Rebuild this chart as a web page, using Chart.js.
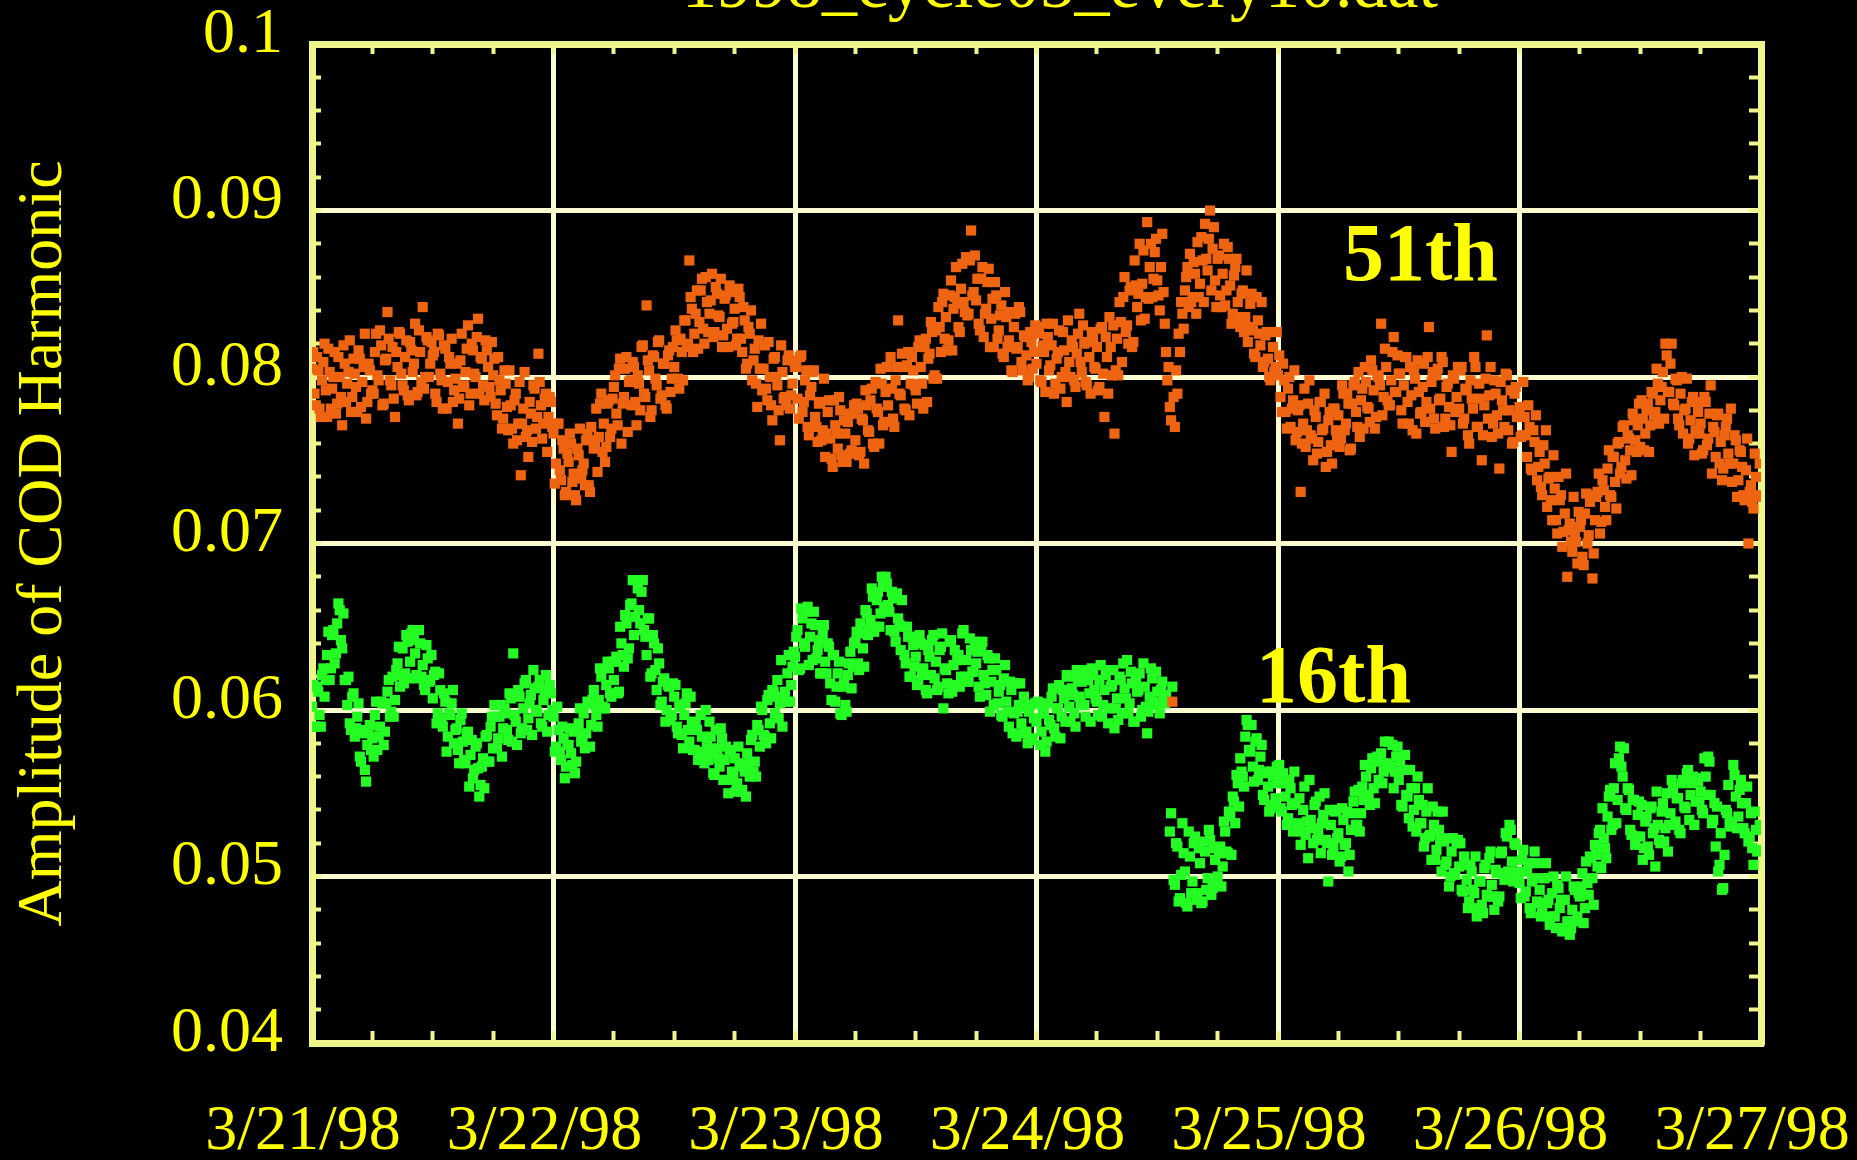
<!DOCTYPE html>
<html>
<head>
<meta charset="utf-8">
<title>1998_cycle05_every10.dat</title>
<script src="https://cdn.jsdelivr.net/npm/chart.js@4.4.1/dist/chart.umd.min.js"></script>
<style>
  html, body { margin: 0; padding: 0; background: #000; }
  #chart { display: block; background: #000; }
</style>
</head>
<body>
<canvas id="chart" width="1857" height="1160"></canvas>
<script>
// COD harmonic amplitudes, 3/21/98 - 3/27/98 (16th and 51st harmonic)

const fileName = "1998_cycle05_every10.dat";
const yTitle = "Amplitude of COD Harmonic";
const dayLabels = ["3/21/98", "3/22/98", "3/23/98", "3/24/98", "3/25/98", "3/26/98", "3/27/98"];
const ampLabels = ["0.04", "0.05", "0.06", "0.07", "0.08", "0.09", "0.1"];

const SAMPLES_PER_DAY = 192; // one sample every 7.5 min, t=0 at 3/21/98 00:00

// amplitude x 1e-4, one row = 6 hours of samples
const harm51 = [
  805,815, 790,783, 812,804, 781,776, 798,809, 820,792, 776,817, 803,781, 793,800, 815,778, 784,812, 800,788, 771,819, 808,785, 796,803, 822,779, 788,811, 802,794, 779,816, 811,782, 797,806, 826,775, 785,808, 804,790,
  792,790, 815,826, 801,798, 828,819, 783,784, 810,811, 839,823, 798,795, 818,787, 776,815, 806,827, 826,802, 795,792, 812,822, 789,786, 821,816, 803,808, 832,789, 791,828, 815,797, 842,793, 800,824, 822,800, 808,821,
  813,815, 790,785, 826,825, 802,798, 781,819, 817,781, 797,812, 808,823, 785,792, 799,808, 772,787, 810,826, 794,795, 803,817, 831,783, 790,820, 816,802, 800,824, 835,790, 812,811, 795,786, 822,816, 806,794, 788,821,
  801,811, 784,777, 812,798, 792,769, 775,804, 796,782, 768,804, 783,769, 760,786, 790,762, 772,797, 741,772, 781,803, 764,768, 752,785, 778,761, 795,793, 769,776, 814,797, 783,763, 772,787, 790,755, 776,788, 785,770,
  766,736, 748,772, 772,744, 738,762, 757,729, 731,754, 749,766, 760,737, 742,729, 726,757, 753,769, 739,744, 748,735, 762,766, 735,731, 770,762, 757,760, 781,743, 764,784, 790,755, 772,749, 758,784, 786,764, 769,787,
  794,801, 778,771, 805,811, 760,784, 788,805, 812,767, 797,798, 783,809, 806,785, 771,801, 796,780, 818,819, 790,788, 843,810, 804,776, 780,813, 812,799, 795,821, 822,787, 789,808, 808,783, 781,813, 816,791, 799,818,
  806,828, 822,799, 793,823, 815,798, 834,834, 818,820, 870,848, 841,815, 826,838, 852,817, 833,852, 859,829, 820,860, 845,827, 838,846, 862,824, 827,854, 850,837, 836,859, 818,825, 847,849, 829,818, 855,851, 832,833,
  841,819, 823,853, 848,823, 815,842, 834,805, 808,830, 826,840, 798,810, 817,796, 782,822, 805,832, 792,805, 819,793, 786,821, 800,783, 774,811, 812,800, 795,780, 762,819, 803,787, 788,783, 810,813, 781,789, 796,810,
  806,806, 787,775, 812,813, 779,785, 798,804, 770,765, 789,794, 803,804, 776,770, 761,784, 785,762, 768,799, 752,766, 779,786, 763,751, 746,786, 771,766, 757,788, 780,753, 749,774, 766,749, 773,778, 754,756, 778,783,
  762,784, 781,753, 755,775, 774,748, 792,783, 768,767, 786,793, 760,758, 797,781, 779,760, 805,796, 771,773, 791,806, 783,773, 812,793, 775,770, 798,806, 834,790, 789,814, 806,781, 780,807, 815,777, 796,812, 804,795,
  792,784, 818,822, 806,796, 781,818, 823,785, 811,814, 833,827, 799,801, 828,799, 842,830, 815,845, 850,823, 836,816, 822,849, 858,816, 841,848, 866,844, 830,827, 853,868, 845,839, 872,837, 838,870, 888,849, 851,873,
  846,859, 832,828, 859,866, 824,838, 841,857, 865,818, 835,847, 818,857, 849,823, 828,837, 843,814, 812,851, 836,818, 822,839, 804,803, 830,838, 817,818, 842,839, 809,804, 825,824, 813,798, 800,827, 821,805, 815,831,
  808,830, 826,798, 797,819, 815,791, 832,824, 804,807, 819,832, 790,796, 811,815, 828,793, 800,827, 816,803, 785,834, 809,800, 822,818, 798,794, 814,826, 838,809, 803,831, 820,797, 795,821, 812,790, 827,823, 806,805,
  818,792, 794,829, 830,802, 776,824, 812,790, 836,818, 801,831, 766,804, 823,801, 845,833, 809,848, 860,827, 831,820, 852,854, 818,821, 870,855, 842,850, 880,834, 856,876, 835,848, 893,847, 866,880, 848,859, 875,883,
  858,849, 840,866, 886,851, 832,815, 798,806, 782,774, 605,788, 770,804, 790,826, 815,845, 838,829, 852,860, 866,842, 874,845, 848,869, 862,838, 881,848, 856,884, 870,845, 892,871, 864,883, 900,852, 877,890, 858,842,
  871,873, 849,842, 862,880, 843,852, 878,871, 855,832, 838,861, 866,871, 845,836, 830,850, 852,827, 836,864, 821,830, 844,850, 828,814, 812,848, 834,826, 819,845, 806,809, 825,827, 811,800, 798,827, 818,803, 806,827,
  801,813, 788,779, 808,798, 779,769, 793,800, 770,781, 786,804, 762,767, 780,783, 731,760, 772,793, 758,768, 784,798, 765,763, 750,780, 776,754, 761,785, 785,768, 769,790, 746,755, 774,779, 759,748, 781,781, 768,763,
  777,758, 763,795, 790,768, 772,790, 784,756, 757,784, 795,797, 779,770, 803,764, 786,793, 769,806, 797,782, 781,773, 810,804, 792,769, 776,801, 800,795, 832,777, 788,817, 806,786, 783,783, 798,815, 824,791, 791,813,
  802,802, 780,772, 795,812, 812,785, 772,806, 789,768, 804,799, 766,810, 791,778, 779,794, 808,773, 785,812, 830,781, 797,803, 775,769, 801,805, 786,787, 812,809, 770,775, 794,796, 782,771, 755,801, 799,779, 788,806,
  781,804, 806,772, 775,793, 792,765, 760,798, 787,781, 812,806, 770,770, 796,787, 750,765, 783,799, 825,775, 789,806, 764,772, 798,790, 777,766, 745,797, 786,780, 770,802, 801,768, 780,792, 760,761, 790,794, 776,776,
  782,764, 765,797, 776,765, 752,783, 770,745, 744,768, 761,777, 738,746, 755,734, 729,759, 748,768, 722,739, 740,726, 714,753, 733,714, 706,740, 726,729, 698,707, 718,742, 680,708, 712,701, 695,728, 706,701, 688,719,
  710,714, 692,687, 718,730, 700,705, 725,729, 679,694, 714,728, 731,742, 706,713, 738,732, 722,714, 745,756, 729,728, 752,752, 737,721, 760,761, 742,746, 770,771, 750,739, 765,763, 756,741, 778,774, 762,755, 771,784,
  758,786, 775,756, 766,780, 784,755, 771,791, 790,777, 779,805, 796,772, 786,794, 803,775, 820,813, 791,791, 808,820, 784,783, 799,798, 775,771, 790,800, 766,780, 781,799, 760,763, 774,785, 788,753, 768,785, 779,766,
  772,754, 756,788, 785,759, 763,778, 795,742, 770,767, 752,777, 778,748, 761,738, 745,765, 770,775, 754,748, 781,737, 748,765, 762,728, 738,756, 755,746, 729,726, 744,763, 700,731, 735,725, 721,754, 740,729, 728,748
];

const harm16 = [
  602,615, 590,590, 614,611, 597,590, 621,625, 608,618, 633,647, 618,625, 645,648, 628,634, 652,664, 660,642, 637,658, 618,618, 603,620, 592,588, 608,610, 584,589, 596,604, 572,569, 588,586, 564,557, 579,587, 591,576,
  583,572, 597,605, 576,584, 590,605, 604,579, 587,604, 611,618, 596,599, 620,596, 606,624, 628,638, 614,621, 637,616, 622,645, 641,619, 629,646, 648,642, 634,621, 619,648, 640,620, 627,615, 612,639, 631,617, 618,633,
  607,621, 623,592, 598,622, 612,595, 590,610, 605,575, 584,598, 597,604, 612,580, 588,589, 576,568, 594,598, 581,570, 568,586, 587,554, 573,582, 559,564, 578,580, 565,548, 555,566, 571,553, 584,585, 569,569, 590,596,
  577,603, 596,577, 583,596, 603,572, 589,601, 598,588, 582,610, 607,581, 634,597, 593,579, 612,608, 586,589, 601,616, 618,588, 595,604, 609,585, 624,613, 600,599, 614,618, 592,590, 606,612, 621,587, 597,615, 610,600,
  596,575, 578,602, 588,575, 570,590, 583,559, 566,579, 579,589, 574,567, 587,562, 569,588, 592,601, 581,583, 598,577, 586,605, 604,578, 591,606, 612,603, 597,590, 606,625, 620,602, 601,601, 615,629, 625,610, 608,629,
  618,629, 632,610, 611,650, 640,633, 626,657, 652,631, 637,663, 664,678, 645,656, 678,673, 660,652, 671,678, 648,644, 633,655, 655,620, 622,645, 640,624, 612,637, 628,603, 605,617, 619,593, 600,615, 614,594, 597,616,
  608,615, 590,586, 602,603, 585,577, 597,604, 610,588, 581,608, 593,576, 576,591, 588,570, 572,597, 584,575, 568,600, 579,570, 593,584, 574,562, 561,588, 577,571, 566,589, 583,558, 570,578, 558,550, 575,576, 563,560,
  571,551, 556,578, 566,551, 552,568, 563,548, 574,568, 560,582, 585,563, 569,560, 591,588, 578,602, 600,585, 584,580, 606,609, 592,583, 612,611, 598,608, 618,595, 604,630, 590,606, 611,605, 622,633, 605,615, 626,635,
  632,644, 648,624, 625,661, 655,640, 638,659, 662,627, 644,652, 630,659, 651,631, 636,642, 622,622, 645,651, 629,622, 640,638, 616,606, 633,633, 605,614, 622,629, 598,597, 614,616, 603,599, 621,628, 635,613, 626,640,
  641,647, 628,624, 652,646, 637,626, 660,658, 645,648, 654,673, 668,647, 650,666, 671,650, 658,680, 674,662, 680,676, 663,659, 648,671, 667,647, 641,670, 655,651, 636,666, 650,633, 628,650, 644,620, 620,644, 639,626,
  632,615, 618,645, 640,621, 625,639, 612,610, 636,632, 621,642, 645,619, 629,612, 614,636, 638,646, 601,625, 624,616, 610,641, 642,611, 627,636, 615,630, 633,614, 620,646, 648,620, 630,617, 617,643, 636,623, 623,641,
  628,635, 614,608, 636,641, 621,616, 609,633, 631,599, 617,624, 603,631, 624,604, 611,615, 597,596, 619,627, 605,599, 590,617, 612,586, 598,616, 584,599, 603,616, 592,586, 608,602, 587,580, 599,603, 582,583, 595,604,
  593,605, 604,579, 587,598, 598,575, 581,604, 594,591, 608,613, 589,584, 601,601, 615,583, 596,612, 607,593, 621,620, 602,593, 613,609, 598,590, 624,618, 608,604, 617,624, 603,596, 619,618, 610,593, 625,621, 612,607,
  605,597, 618,627, 596,603, 612,621, 624,592, 601,614, 615,624, 589,601, 607,594, 620,618, 598,628, 613,607, 630,598, 604,623, 616,593, 593,618, 611,612, 622,596, 600,628, 614,602, 586,599, 608,625, 619,605, 603,623,
  611,604, 598,612, 617,606, 604,609, null,null, 527,538, 614,498, 495,520, 518,485, 487,501, 532,514, 503,484, 482,527, 512,490, 497,520, 524,486, 490,517, 508,484, 485,521, 515,492, 499,528, 522,489, 493,517, 510,495,
  500,514, 518,494, 506,533, 527,515, 514,539, 536,513, 548,545, 532,561, 556,542, 571,563, 560,554, 584,594, 591,576, 575,591, 566,557, 581,583, 558,564, 572,579, 549,546, 563,562, 554,539, 541,563, 560,543, 547,566,
  556,567, 541,539, 562,556, 548,531, 535,558, 553,543, 527,563, 544,532, 531,547, 519,527, 540,554, 525,533, 511,558, 534,529, 520,543, 545,522, 528,548, 514,532, 537,550, 522,520, 497,540, 531,513, 518,539, 540,523,
  526,509, 512,541, 534,519, 520,539, 503,513, 528,538, 545,551, 531,531, 552,527, 538,554, 546,567, 560,549, 549,543, 565,571, 553,544, 571,572, 558,569, 574,556, 563,581, 568,566, 581,565, 566,579, 553,563, 572,578,
  558,569, 543,542, 564,573, 549,548, 535,564, 553,530, 540,553, 527,560, 546,532, 532,543, 518,523, 539,553, 524,525, 510,542, 531,510, 516,539, 528,522, 503,539, 521,507, 509,523, 494,500, 515,523, 502,501, 520,522,
  506,520, 492,491, 512,507, 498,481, 485,507, 503,492, 490,512, 476,481, 497,497, 483,478, 505,507, 489,488, 511,515, 495,488, 480,504, 502,485, 488,514, 515,502, 498,526, 524,503, 531,528, 509,497, 520,519, 503,499,
  496,487, 510,516, 488,491, 503,508, 481,478, 497,499, 515,508, 485,484, 492,476, 478,499, 499,508, 484,486, 471,476, 490,500, 476,469, 495,493, 481,486, 467,469, 486,500, 473,473, 465,469, 480,494, 492,473, 476,490,
  488,494, 502,472, 481,509, 496,489, 512,511, 499,483, 519,513, 506,526, 528,505, 541,523, 517,511, 536,548, 552,528, 531,553, 568,532, 546,571, 578,566, 560,577, 541,540, 553,552, 528,525, 546,546, 519,524, 537,545,
  524,543, 510,517, 533,536, 518,513, 541,542, 526,529, 506,551, 531,522, 520,539, 544,521, 529,550, 515,531, 538,558, 552,531, 533,547, 547,528, 526,556, 558,542, 541,562, 564,534, 549,556, 560,531, 545,559, 557,545,
  551,540, 538,571, 560,549, 572,569, 549,532, 534,544, 518,542, 503,507, 526,492, 493,513, 540,538, 555,532, 530,533, 567,561, 548,529, 536,552, 558,544, 529,526, 544,554, 521,524, 538,517, 507,539, 528,515, 516,531
];

// text tags next to the curves, placed in data units
const harmonicTags = [
  { text: "51th", day: 4.59, amp: 0.0858 },
  { text: "16th", day: 4.23, amp: 0.0605 }
];

const ORANGE = "#ee6411";
const GREEN = "#24fc24";
const YELLOW = "#ffff00";
const FRAME = "#eef58a";
const GRID = "#fbfbd0";
const SERIF = "'Liberation Serif', 'Times New Roman', serif";

function toPoints(values) {
  const pts = [];
  values.forEach((v, i) => {
    if (v !== null) pts.push({ x: i / SAMPLES_PER_DAY, y: v / 10000 });
  });
  return pts;
}

// short inward ticks, on an axis of zero thickness
function minorAxis(axis, position, step, len, weight, withBorder, range) {
  return {
    type: "linear",
    axis: axis,
    position: position,
    weight: weight,
    min: range[0],
    max: range[1],
    afterFit: s => { if (axis === "x") s.height = 0; else s.width = 0; },
    ticks: { display: false, stepSize: step },
    grid: { drawOnChartArea: false, drawTicks: true, tickLength: len, tickWidth: 4, tickColor: FRAME },
    border: { display: withBorder, color: FRAME, width: 7 }
  };
}

const textPlugin = {
  id: "texts",
  afterDraw(chart) {
    const ctx = chart.ctx;
    const xs = chart.scales.x, ys = chart.scales.y;
    ctx.save();
    ctx.fillStyle = YELLOW;
    ctx.textAlign = "center";
    ctx.textBaseline = "alphabetic";
    ctx.font = "70px " + SERIF;
    ctx.fillText(fileName, 1060, 7);
    ctx.font = "bold 82px " + SERIF;
    harmonicTags.forEach(t => {
      ctx.fillText(t.text, xs.getPixelForValue(t.day), ys.getPixelForValue(t.amp));
    });
    ctx.restore();
  }
};

new Chart(document.getElementById("chart"), {
  type: "scatter",
  data: {
    datasets: [
      {
        label: "51th",
        data: toPoints(harm51),
        xAxisID: "x", yAxisID: "y",
        backgroundColor: ORANGE,
        pointStyle: "rect",
        pointRadius: 7.2,
        pointBorderWidth: 0
      },
      {
        label: "16th",
        data: toPoints(harm16),
        xAxisID: "x", yAxisID: "y",
        backgroundColor: GREEN,
        pointStyle: "rect",
        pointRadius: 7.2,
        pointBorderWidth: 0
      }
    ]
  },
  options: {
    responsive: false,
    devicePixelRatio: 1,
    animation: false,
    events: [],
    layout: { autoPadding: false, padding: { left: 0, right: 96, top: 44, bottom: 0 } },
    plugins: { legend: { display: false }, tooltip: { enabled: false }, title: { display: false } },
    scales: {
      x: {
        type: "linear",
        position: "bottom",
        min: 0,
        max: 6,
        afterFit: s => { s.height = 117; s.paddingLeft = 0; s.paddingRight = 0; },
        ticks: {
          stepSize: 1,
          autoSkip: false,
          maxRotation: 0,
          padding: 57,
          labelOffset: -9,
          color: YELLOW,
          font: { family: SERIF, size: 64, lineHeight: 1 },
          callback: (v, i) => dayLabels[i]
        },
        grid: { color: GRID, lineWidth: 5, drawTicks: false },
        border: { display: true, color: FRAME, width: 7 }
      },
      xMinor: minorAxis("x", "bottom", 0.25, -12, -1, false, [0, 6]),
      xTop: minorAxis("x", "top", 0.25, -10, 0, true, [0, 6]),
      y: {
        type: "linear",
        position: "left",
        min: 0.04,
        max: 0.1,
        afterFit: s => { s.width = 312; s.paddingTop = 0; s.paddingBottom = 0; },
        ticks: {
          stepSize: 0.01,
          padding: 29,
          labelOffset: -9,
          color: YELLOW,
          font: { family: SERIF, size: 64, lineHeight: 1 },
          callback: (v, i) => ampLabels[i]
        },
        grid: { color: GRID, lineWidth: 5, drawTicks: false },
        border: { display: true, color: FRAME, width: 7 },
        title: {
          display: true,
          text: yTitle,
          color: YELLOW,
          font: { family: SERIF, size: 64, lineHeight: 1 },
          padding: { top: 12, bottom: 0 }
        }
      },
      yMinor: minorAxis("y", "left", 0.002, -9, -1, false, [0.04, 0.1]),
      yRight: minorAxis("y", "right", 0.002, -12, 0, true, [0.04, 0.1])
    }
  },
  plugins: [textPlugin]
});
</script>
</body>
</html>
